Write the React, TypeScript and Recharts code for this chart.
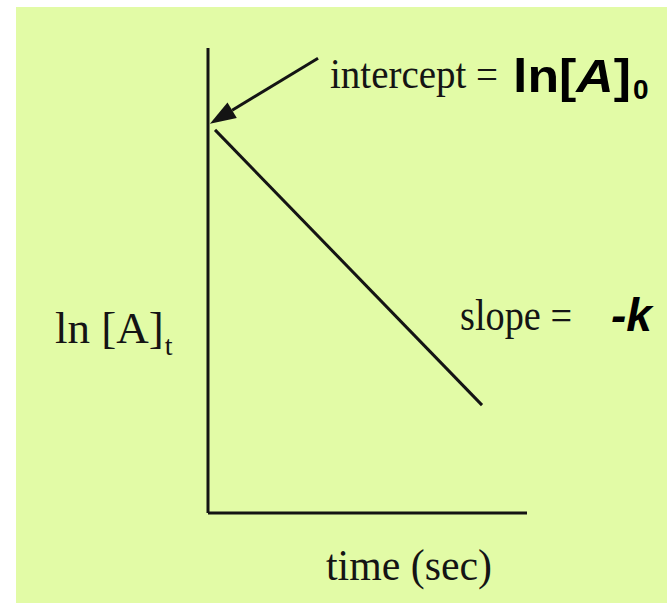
import { LineChart, Line, XAxis, YAxis, ReferenceLine, Customized } from "recharts";

// chart values (arbitrary units: 0..100 on both axes)
const timeValues = [2.2, 85.9];
const lnAValues = [82.4, 23.2];
const xDomain = [0, 100];
const yDomain = [0, 100];
// arrow pointing at the intercept
const arrowFrom = { x: 34.5, y: 97.8 };
const arrowTo = { x: 0.6, y: 83.7 };

const interceptLabel = "intercept =";
const interceptValue = ["ln[", "A", "]", "0"];
const slopeLabel = "slope =";
const slopeValue = "-k";
const yTitle = ["ln [A]", "t"];
const xTitle = "time (sec)";

const data = timeValues.map((t, i) => ({ t, lnA: lnAValues[i] }));

const ink = "#141414";
const serif = "'Liberation Serif', 'Times New Roman', serif";
const sans = "'Liberation Sans', Arial, sans-serif";

function Arrow(props: any) {
  const { x1, y1, x2, y2 } = props;
  const ang = Math.atan2(y2 - y1, x2 - x1);
  const len = 26, half = 9;
  const bx = x2 - len * Math.cos(ang), by = y2 - len * Math.sin(ang);
  const px = -Math.sin(ang) * half, py = Math.cos(ang) * half;
  return (
    <g>
      <line x1={x1} y1={y1} x2={bx} y2={by} stroke={ink} strokeWidth={3} />
      <polygon points={`${x2},${y2} ${bx + px},${by + py} ${bx - px},${by - py}`} fill={ink} />
    </g>
  );
}

function Texts() {
  return (
    <g>
      <text x={330} y={88} fontFamily={serif} fontSize={43} fill={ink} textLength={168} lengthAdjust="spacingAndGlyphs">{interceptLabel}</text>
      <text x={513} y={92} fontFamily={sans} fontSize={46} fontWeight="bold" fill="#000" textLength={118} lengthAdjust="spacingAndGlyphs">
        {interceptValue[0]}<tspan fontStyle="italic">{interceptValue[1]}</tspan>{interceptValue[2]}
      </text>
      <text x={633} y={99} fontFamily={sans} fontSize={28} fontWeight="bold" fill="#000">{interceptValue[3]}</text>
      <text x={460} y={330} fontFamily={serif} fontSize={45} fill={ink} textLength={112} lengthAdjust="spacingAndGlyphs">{slopeLabel}</text>
      <text x={611} y={331} fontFamily={sans} fontSize={46} fontWeight="bold" fontStyle="italic" fill="#000">{slopeValue}</text>
      <text x={55} y={343} fontFamily={serif} fontSize={45} fill={ink}>
        {yTitle[0]}<tspan fontSize={28} dx={1} dy={12}>{yTitle[1]}</tspan>
      </text>
      <text x={326} y={580} fontFamily={serif} fontSize={45} fill={ink} textLength={166} lengthAdjust="spacingAndGlyphs">{xTitle}</text>
    </g>
  );
}

export default function App() {
  return (
    <div style={{ position: "absolute", left: 0, top: 0, width: 667, height: 603, background: "#fff" }}>
      <div style={{ position: "absolute", left: 16, top: 7, width: 651, height: 596, background: "#e2fba6" }} />
      <div style={{ position: "absolute", left: 0, top: 0 }}>
        <LineChart width={667} height={603} data={data} margin={{ top: 48, left: 207, right: 140, bottom: 89 }}>
          <XAxis dataKey="t" type="number" domain={xDomain} height={1} tick={false} tickLine={false} axisLine={{ stroke: ink, strokeWidth: 3 }} />
          <YAxis type="number" domain={yDomain} width={1} tick={false} tickLine={false} axisLine={{ stroke: ink, strokeWidth: 3 }} />
          <Line dataKey="lnA" stroke={ink} strokeWidth={3} dot={false} isAnimationActive={false} />
          <ReferenceLine segment={[arrowFrom, arrowTo]} shape={Arrow} />
          <Customized component={Texts} />
        </LineChart>
      </div>
    </div>
  );
}
